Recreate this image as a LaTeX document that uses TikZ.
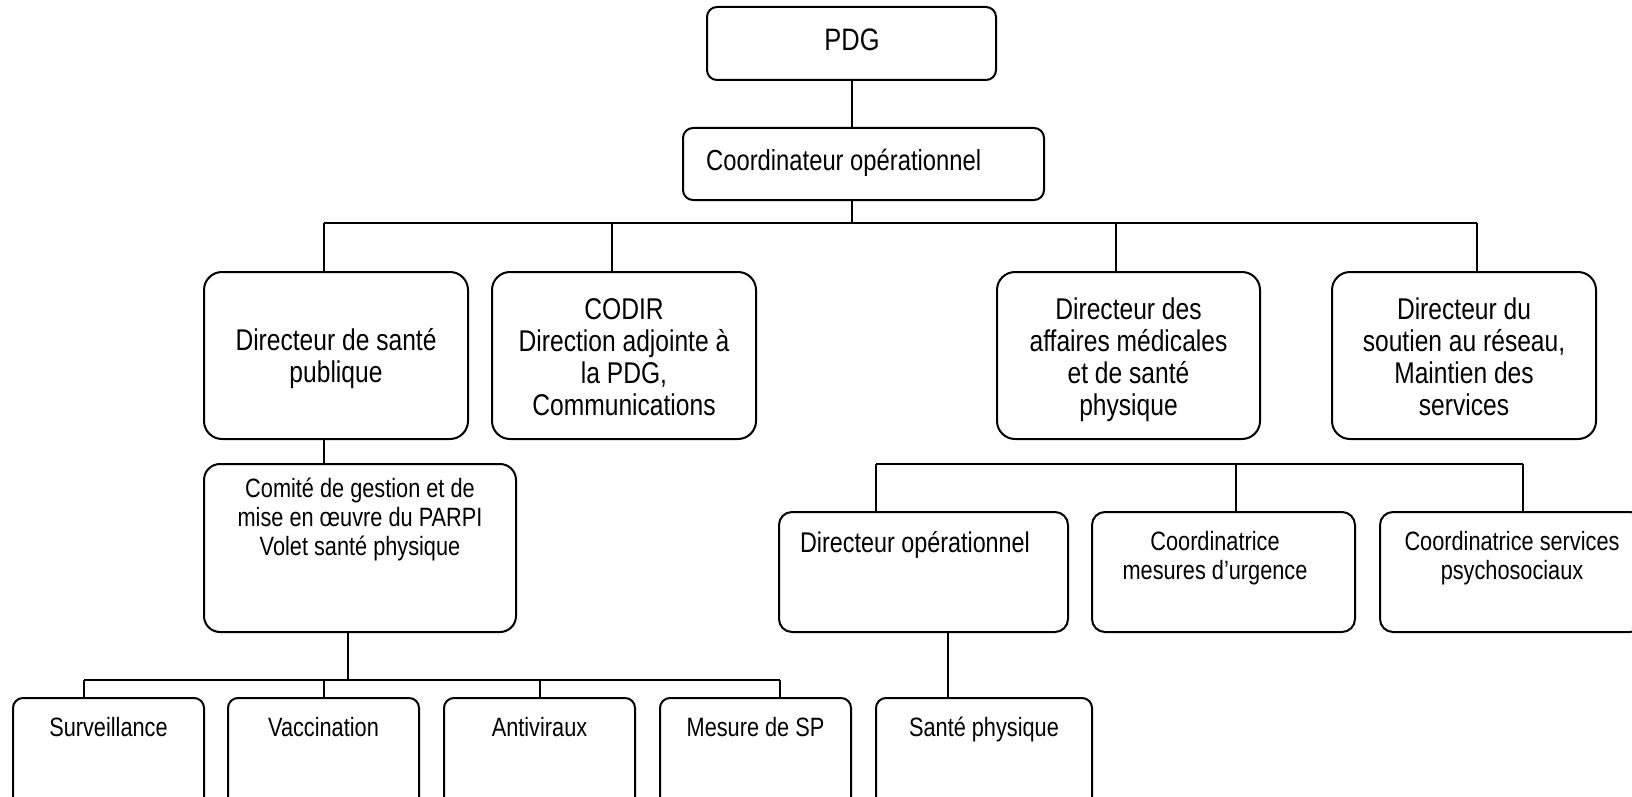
\documentclass[tikz,border=0pt]{standalone}
\usepackage{fontspec}
\setmainfont{Liberation Sans}[FakeStretch=0.82]
\newcommand\fsPdg{\fontsize{31}{36}\selectfont}
\newcommand\fsCo{\fontsize{29}{33}\selectfont}
\newcommand\fsLv{\fontsize{30}{32}\selectfont}
\newcommand\fsMd{\fontsize{28.5}{31}\selectfont}
\newcommand\fsSm{\fontsize{26.5}{29}\selectfont}
\begin{document}
\begin{tikzpicture}[x=1pt,y=-1pt,
  box/.style={draw, rectangle, inner sep=0pt, line width=2pt},
  txt/.style={inner sep=0pt, align=center},
  conn/.style={line width=2pt}]
\useasboundingbox (0,0) rectangle (1632,797);
\fill[white] (0,0) rectangle (1632,797);
\clip (0,0) rectangle (1632,797);

% boxes
\node[box, rounded corners=10pt, minimum width=289pt, minimum height=73pt] (pdg) at (851.5,43.5) {};
\node[box, rounded corners=10pt, minimum width=361pt, minimum height=72pt] (coord) at (863.5,164) {};
\node[box, rounded corners=18pt, minimum width=264pt, minimum height=167pt] (dsp) at (336,355.5) {};
\node[box, rounded corners=18pt, minimum width=264pt, minimum height=167pt] (codir) at (624,355.5) {};
\node[box, rounded corners=18pt, minimum width=263pt, minimum height=167pt] (dam) at (1128.5,355.5) {};
\node[box, rounded corners=18pt, minimum width=264pt, minimum height=167pt] (dsr) at (1464,355.5) {};
\node[box, rounded corners=16pt, minimum width=312pt, minimum height=168pt] (comite) at (360,548) {};
\node[box, rounded corners=13pt, minimum width=289pt, minimum height=120pt] (dirop) at (923.5,572) {};
\node[box, rounded corners=13pt, minimum width=263pt, minimum height=120pt] (cmu) at (1223.5,572) {};
\node[box, rounded corners=13pt, minimum width=263pt, minimum height=120pt] (csp) at (1511.5,572) {};
\node[box, rounded corners=10pt, minimum width=191pt, minimum height=110pt] (surv) at (108.5,753) {};
\node[box, rounded corners=10pt, minimum width=191pt, minimum height=110pt] (vacc) at (323.5,753) {};
\node[box, rounded corners=10pt, minimum width=191pt, minimum height=110pt] (anti) at (539.5,753) {};
\node[box, rounded corners=10pt, minimum width=191pt, minimum height=110pt] (mesure) at (755.5,753) {};
\node[box, rounded corners=10pt, minimum width=216pt, minimum height=110pt] (sante) at (984,753) {};

% texts
\node[txt, anchor=base, font=\fsPdg] (tpdg) at (852,51) {PDG};
\node[txt, anchor=base west, font=\fsCo] (tcoord) at (706,170) {Coordinateur opérationnel};
\node[txt, font=\fsLv] (tdsp) at (336,359) {Directeur de santé\\publique};
\node[txt, font=\fsLv] (tcodir) at (624,357) {CODIR\\Direction adjointe à\\la PDG,\\Communications};
\node[txt, font=\fsLv] (tdam) at (1128.5,360) {Directeur des\\affaires médicales\\et de santé\\physique};
\node[txt, font=\fsLv] (tdsr) at (1464,357) {Directeur du\\soutien au réseau,\\Maintien des\\services};
\node[txt, anchor=north, font=\fsSm] (tcomite) at (360,478) {Comité de gestion et de\\mise en œuvre du PARPI\\Volet santé physique};
\node[txt, anchor=north, font=\fsMd] (tdirop) at (915,531) {Directeur opérationnel};
\node[txt, anchor=north, font=\fsSm] (tcmu) at (1215,531) {Coordinatrice\\mesures d’urgence};
\node[txt, anchor=north, font=\fsSm] (tcsp) at (1512,531) {Coordinatrice services\\psychosociaux};
\node[txt, anchor=base, font=\fsSm] (tsurv) at (108.5,736) {Surveillance};
\node[txt, anchor=base, font=\fsSm] (tvacc) at (323.5,736) {Vaccination};
\node[txt, anchor=base, font=\fsSm] (tanti) at (539.5,736) {Antiviraux};
\node[txt, anchor=base, font=\fsSm] (tmesure) at (755.5,736) {Mesure de SP};
\node[txt, anchor=base, font=\fsSm] (tsante) at (984,736) {Santé physique};

% bus points
\coordinate (b1) at (852,223);
\coordinate (d1) at (324,223);
\coordinate (d2) at (612,223);
\coordinate (d3) at (1116,223);
\coordinate (d4) at (1477,223);
\coordinate (c1) at (348,680);
\coordinate (e1) at (84,680);
\coordinate (e2) at (324,680);
\coordinate (e3) at (540,680);
\coordinate (e4) at (780,680);
\coordinate (f1) at (876,464);
\coordinate (f2) at (1236,464);
\coordinate (f3) at (1523,464);
\coordinate (g1) at (948,632);

% connectors
\draw[conn] (pdg.south) -- (pdg.south |- coord.north);
\draw[conn] (coord.south -| b1) -- (b1);
\draw[conn] (d1) -- (d4);
\draw[conn] (d1) -- (d1 |- dsp.north);
\draw[conn] (d2) -- (d2 |- codir.north);
\draw[conn] (d3) -- (d3 |- dam.north);
\draw[conn] (d4) -- (d4 |- dsr.north);
\draw[conn] (dsp.south -| d1) -- (comite.north -| d1);
\draw[conn] (comite.south -| c1) -- (c1);
\draw[conn] (e1) -- (e4);
\draw[conn] (e1) -- (e1 |- surv.north);
\draw[conn] (e2) -- (e2 |- vacc.north);
\draw[conn] (e3) -- (e3 |- anti.north);
\draw[conn] (e4) -- (e4 |- mesure.north);
\draw[conn] (f1) -- (f3);
\draw[conn] (f1) -- (f1 |- dirop.north);
\draw[conn] (f2) -- (f2 |- cmu.north);
\draw[conn] (f3) -- (f3 |- csp.north);
\draw[conn] (dirop.south -| g1) -- (g1 |- sante.north);
\end{tikzpicture}
\end{document}
